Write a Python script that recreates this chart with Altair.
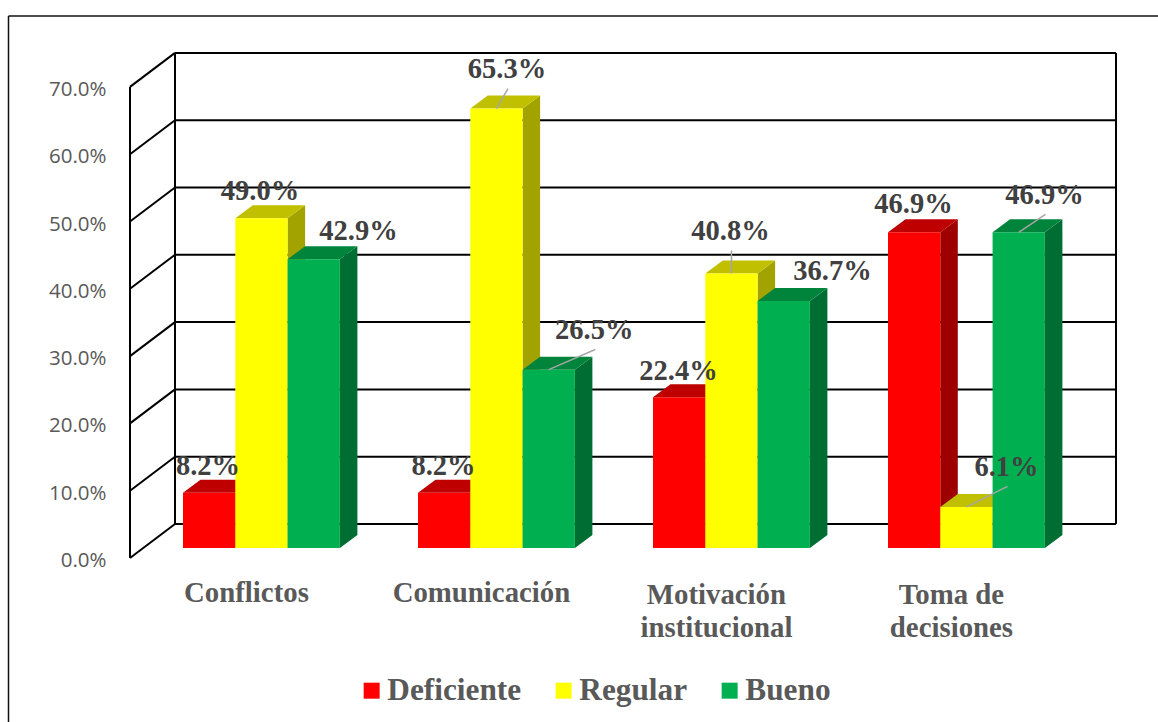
import altair as alt
import pandas as pd

# Survey results per dimension, in percent
categories = ["Conflictos", "Comunicación", "Motivación\ninstitucional", "Toma de\ndecisiones"]
series_names = ["Deficiente", "Regular", "Bueno"]
deficiente = [8.2, 8.2, 22.4, 46.9]
regular = [49.0, 65.3, 40.8, 6.1]
bueno = [42.9, 26.5, 36.7, 46.9]
axis_ticks = [0, 10, 20, 30, 40, 50, 60, 70]

# Face colours of each series: front, top, side
front_colors = ["#FF0000", "#FFFF00", "#00B050"]
top_colors = ["#BF0000", "#C0C000", "#00843C"]
side_colors = ["#9E0000", "#A3A300", "#006D32"]

# Label placement relative to the top centre of the bar's front face (right, up)
label_shift = [
    [(-1.1, 17.8), (-0.6, 17.8), (-0.6, 17.2), (-0.6, 19.4)],
    [(-1.5, 18.2), (10.5, 30.5), (-1.0, 33.4), (40.0, 31.0)],
    [(44.7, 19.3), (45.5, 30.7), (48.7, 21.0), (25.7, 28.4)],
]
# Labels tied to their bar by a leader line
leaders = {(1, 1), (1, 2), (1, 3), (2, 1), (2, 3)}

W, H = 1158, 722
ZERO_Y = 558          # vertical position of 0 %
UNIT = 6.73           # length of one percentage point
WALL_L, WALL_R, WALL_F = 175, 1116, 130
WALL_LIFT = 34 / UNIT
BAR_W = 52.3
GROUP_STEP = 235
GROUP_START = 183
DEPTH_X = 17.5
DEPTH_Y = 13 / UNIT
FLOOR = 10 / UNIT     # front edge of the bars, above the axis zero


def level(px):
    return (ZERO_Y - px) / UNIT


x_scale = alt.Scale(domain=[0, W], nice=False, zero=False)
y_scale = alt.Scale(domain=[level(H), level(0)], nice=False, zero=False)
y_axis = alt.Axis(
    values=axis_ticks, title=None, domain=False, ticks=False, grid=False,
    labelExpr="format(datum.value, '.1f') + '%'",
    labelFont="Open Sans", labelFontSize=20.5, labelColor="#595959",
    labelPadding=0, offset=-106, labelOffset=2.5,
)
X = lambda f: alt.X(f, type="quantitative", scale=x_scale, axis=None)
Y = lambda f: alt.Y(f, type="quantitative", scale=y_scale, axis=y_axis)

color_scale = alt.Scale(domain=series_names, range=front_colors)
legend = alt.Legend(
    title=None, orient="none", legendX=356, legendY=675, direction="horizontal",
    symbolType="square", symbolSize=256, symbolStrokeWidth=0,
    labelFont="Liberation Serif", labelFontSize=31.3, labelFontWeight="bold",
    labelColor="#595959", labelOffset=0, columnPadding=26, padding=0,
)

values = [deficiente, regular, bueno]
layers = []

# Frame around the chart and wall lines behind the bars
frame = pd.DataFrame([
    {"x": 8.5, "x2": W, "y": level(16), "y2": level(16)},
    {"x": 8.5, "x2": 8.5, "y": level(16), "y2": level(H)},
])
rule_enc = dict(x=X("x"), x2=alt.X2("x2"), y=Y("y"), y2=alt.Y2("y2"))
layers.append(alt.Chart(frame).mark_rule(color="#111111", strokeWidth=1.5).encode(**rule_enc))

walls = []
for t in axis_ticks:
    walls.append({"x": WALL_L, "x2": WALL_R, "y": t + WALL_LIFT, "y2": t + WALL_LIFT})
    walls.append({"x": WALL_F, "x2": WALL_L, "y": t, "y2": t + WALL_LIFT})
walls.append({"x": WALL_F, "x2": WALL_F, "y": 0, "y2": 70})
walls.append({"x": WALL_L, "x2": WALL_L, "y": WALL_LIFT, "y2": 70 + WALL_LIFT})
walls.append({"x": WALL_R, "x2": WALL_R, "y": WALL_LIFT, "y2": 70 + WALL_LIFT})
layers.append(alt.Chart(pd.DataFrame(walls)).mark_rule(color="#000000", strokeWidth=2).encode(**rule_enc))

# Bars, one series at a time so that later series sit in front
labels, lines = [], []
for s, name in enumerate(series_names):
    sides, lids, fronts = [], [], []
    for c, v in enumerate(values[s]):
        x0 = GROUP_START + c * GROUP_STEP + s * BAR_W
        x1 = x0 + BAR_W
        top = FLOOR + v
        side = [(x1, FLOOR, top), (x1 + DEPTH_X, FLOOR + DEPTH_Y, top + DEPTH_Y)]
        lid = [
            (x0, top, top),
            (x0 + DEPTH_X, top, top + DEPTH_Y),
            (x1, top, top + DEPTH_Y),
            (x1 + DEPTH_X, top + DEPTH_Y, top + DEPTH_Y),
        ]
        sides += [{"bar": c, "x": px, "lo": lo, "hi": hi} for px, lo, hi in side]
        lids += [{"bar": c, "x": px, "lo": lo, "hi": hi} for px, lo, hi in lid]
        fronts.append({"serie": name, "x": x0, "x2": x1, "lo": FLOOR, "hi": top})

        right, up = label_shift[s][c]
        lx = (x0 + x1) / 2 + right
        ly = top + up / UNIT
        labels.append({"x": lx, "y": ly, "text": f"{v:.1f}%"})
        if (s, c) in leaders:
            lines.append({"x": (x0 + x1) / 2, "x2": lx + 1, "y": top, "y2": ly - 10.5 / UNIT})

    for rows, fill in ((sides, side_colors[s]), (lids, top_colors[s])):
        layers.append(
            alt.Chart(pd.DataFrame(rows)).mark_area(color=fill, orient="vertical").encode(
                x=X("x"), y=Y("lo"), y2=alt.Y2("hi"), detail="bar:N",
            )
        )
    layers.append(
        alt.Chart(pd.DataFrame(fronts)).mark_rect().encode(
            x=X("x"), x2=alt.X2("x2"), y=Y("lo"), y2=alt.Y2("hi"),
            color=alt.Color("serie:N", scale=color_scale, legend=legend),
        )
    )

layers.append(alt.Chart(pd.DataFrame(lines)).mark_rule(color="#A6A6A6", strokeWidth=1.5).encode(**rule_enc))
layers.append(
    alt.Chart(pd.DataFrame(labels)).mark_text(
        font="Liberation Serif", fontSize=28.5, fontWeight="bold", color="#404040",
        align="center", baseline="alphabetic",
    ).encode(x=X("x"), y=Y("y"), text="text:N")
)

# Category names under each group
cat_df = pd.DataFrame([
    {
        "x": GROUP_START + c * GROUP_STEP + 1.5 * BAR_W - 15,
        "y": level(604 if "\n" in name else 602),
        "text": name,
    }
    for c, name in enumerate(categories)
])
layers.append(
    alt.Chart(cat_df).mark_text(
        font="Liberation Serif", fontSize=28.8, fontWeight="bold", color="#595959",
        align="center", baseline="alphabetic", lineBreak="\n", lineHeight=33,
    ).encode(x=X("x"), y=Y("y"), text="text:N")
)

chart = (
    alt.layer(*layers)
    .properties(width=W, height=H, padding=0, background="white",
                autosize=alt.AutoSizeParams(type="none"))
    .configure_view(stroke=None)
)
chart.save("out.html", embed_options={"renderer": "svg", "actions": False})
